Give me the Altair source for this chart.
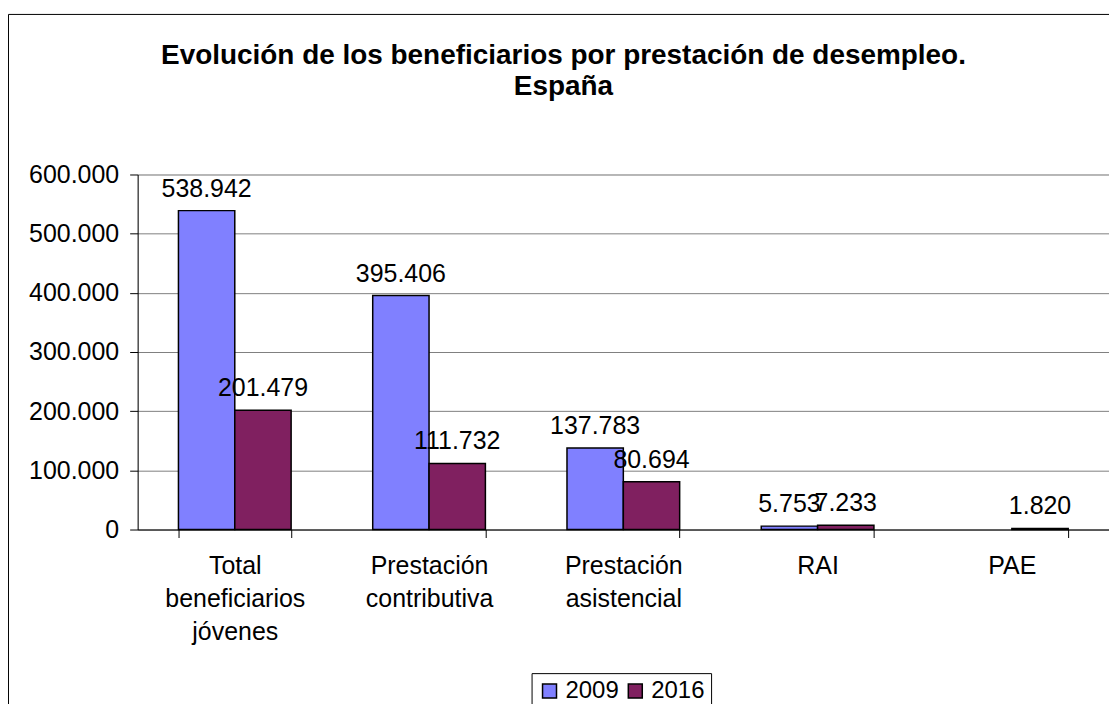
import altair as alt
import pandas as pd

titulo = ["Evolución de los beneficiarios por prestación de desempleo.", "España"]
categorias = ["Total\nbeneficiarios\njóvenes", "Prestación\ncontributiva",
              "Prestación\nasistencial", "RAI", "PAE"]
anios = ["2009", "2016"]
valores_2009 = [538942, 395406, 137783, 5753, None]
valores_2016 = [201479, 111732, 80694, 7233, 1820]
ticks_y = [0, 100000, 200000, 300000, 400000, 500000, 600000]

rows = []
for c, v9, v16 in zip(categorias, valores_2009, valores_2016):
    rows.append({"categoria": c, "anio": "2009", "valor": v9})
    rows.append({"categoria": c, "anio": "2016", "valor": v16})
df = pd.DataFrame(rows)

FONT = "Arial, Liberation Sans, sans-serif"
FS = 25
fmt = "replace(format(datum.value, ','), /,/g, '.')"

base = alt.Chart(df).transform_filter("isValid(datum.valor)").encode(
    x=alt.X("categoria:N", sort=categorias,
            scale=alt.Scale(paddingInner=0.42, paddingOuter=0.21),
            axis=alt.Axis(title=None, labelAngle=0, labelExpr="split(datum.label, '\\n')",
                          labelFontSize=FS, labelFont=FONT, labelColor="black",
                          labelLineHeight=33, labelPadding=16, tickBand="extent",
                          tickSize=8, tickColor="black", domainColor="black",
                          labelBaseline="top", grid=False)),
    xOffset=alt.XOffset("anio:N", sort=anios),
    y=alt.Y("valor:Q", scale=alt.Scale(domain=[0, 600000], nice=False),
            axis=alt.Axis(title=None, values=ticks_y, labelExpr=fmt,
                          labelFontSize=FS, labelFont=FONT, labelColor="black",
                          labelPadding=11, tickSize=8, tickColor="black",
                          domainColor="black", grid=True, gridColor="#808080")),
)

bars = base.mark_bar(stroke="black", strokeWidth=1.5, opacity=1).encode(
    color=alt.Color("anio:N", sort=anios,
                    scale=alt.Scale(domain=anios, range=["#8080FF", "#802060"]),
                    legend=alt.Legend(title=None, orient="none", legendX=395, legendY=500,
                                      direction="horizontal", strokeColor="black",
                                      fillColor="white", padding=6,
                                      symbolType="square", symbolSize=196,
                                      symbolStrokeColor="black", symbolStrokeWidth=1.5,
                                      symbolOpacity=1, labelFontSize=24, labelFont=FONT,
                                      labelColor="black", labelOffset=4,
                                      columnPadding=4, labelLimit=200))
)

labels = base.transform_calculate(
    etiqueta="replace(format(datum.valor, ','), /,/g, '.')"
).mark_text(baseline="alphabetic", dy=-14, fontSize=FS, font=FONT, color="black").encode(
    text="etiqueta:N"
)

one = pd.DataFrame({"f": [0]})
frame = alt.Chart(one).mark_rect(
    fill=None, stroke="black", strokeWidth=1
).encode(x=alt.value(-129.5), x2=alt.value(1100), y=alt.value(-160.5), y2=alt.value(700))

title = alt.Chart(one).mark_text(
    fontSize=28, font=FONT, fontWeight="bold", color="black",
    align="center", baseline="alphabetic", lineHeight=31
).encode(x=alt.value(427), y=alt.value(-111), text=alt.value(titulo))

chart = alt.layer(frame, title, bars, labels).properties(
    width=974, height=356,
    autosize=alt.AutoSizeParams(type="none"),
    padding={"left": 130, "top": 166, "right": 0, "bottom": 174},
).configure_view(stroke="#808080", strokeWidth=1).configure(background="white")

chart.save("out.html", embed_options={"renderer": "svg", "actions": False})
